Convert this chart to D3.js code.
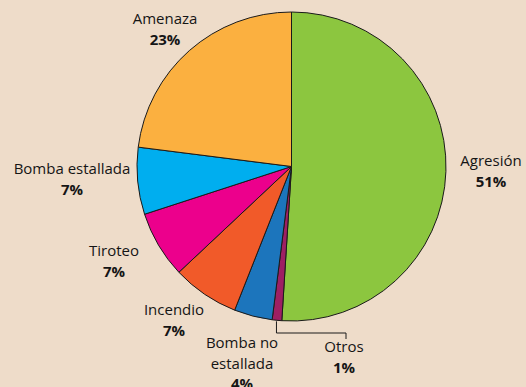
<!DOCTYPE html>
<html>
<head>
<meta charset="utf-8">
<script src="https://cdn.jsdelivr.net/npm/d3@7/dist/d3.min.js"></script>
<style>
  html, body { margin: 0; padding: 0; background: #eedcc9; }
  svg { display: block; }
  text { font-family: "Open Sans", "Noto Sans", sans-serif; fill: #151515; }
</style>
</head>
<body>
<svg id="chart" width="526" height="387"></svg>
<script>
// Incident types and their share (%), clockwise from 12 o'clock
const categories = ["Agresión", "Otros", "Bomba no estallada", "Incendio", "Tiroteo", "Bomba estallada", "Amenaza"];
const values = [51, 1, 4, 7, 7, 7, 23];
const colors = ["#8cc63f", "#9e1f63", "#1c75bc", "#f15a29", "#ec008c", "#00aeef", "#fbb040"];

// Label text lines per slice (name lines, then bold value)
const nameLines = [["Agresión"], ["Otros"], ["Bomba no", "estallada"], ["Incendio"], ["Tiroteo"], ["Bomba estallada"], ["Amenaza"]];
// Label anchor (centre x, first baseline y)
const labelAnchor = [[491, 166], [344, 352], [242, 348], [174, 315], [114, 256], [72, 174], [165, 24]];

const width = 526, height = 387;
const cx = 291.5, cy = 166.5, radius = 154.5;
const lineH = 20.5;

const svg = d3.select("#chart");
const g = svg.append("g").attr("transform", `translate(${cx},${cy})`);

const pie = d3.pie().value(d => d).sort(null);
const arc = d3.arc().innerRadius(0).outerRadius(radius);
const arcs = pie(values);

g.selectAll("path.slice")
  .data(arcs)
  .join("path")
  .attr("class", "slice")
  .attr("d", arc)
  .attr("fill", (d, i) => colors[i])
  .attr("stroke", "#1a1a1a")
  .attr("stroke-width", 1)
  .attr("stroke-linejoin", "round");

// Leader line for the thin "Otros" slice
const otros = arcs[1];
const midA = (otros.startAngle + otros.endAngle) / 2;
const sx = Math.sin(midA) * radius, sy = -Math.cos(midA) * radius;
const leader = d3.path();
leader.moveTo(cx + sx - 0.5, cy + sy + 1);
leader.lineTo(cx + sx - 0.5, 333);
leader.lineTo(labelAnchor[1][0] + 2, 333);
leader.lineTo(labelAnchor[1][0] + 2, 339);
svg.append("path")
  .attr("d", leader.toString())
  .attr("fill", "none")
  .attr("stroke", "#1a1a1a")
  .attr("stroke-width", 1);

// Labels
const labels = svg.append("g");
categories.forEach((c, i) => {
  const [x, y] = labelAnchor[i];
  const t = labels.append("text")
    .attr("x", x).attr("y", y)
    .attr("text-anchor", "middle")
    .attr("font-size", 15);
  nameLines[i].forEach((ln, k) => {
    t.append("tspan").attr("x", x).attr("dy", k === 0 ? 0 : lineH).text(ln);
  });
  t.append("tspan").attr("x", x).attr("dy", lineH)
    .attr("font-weight", "bold")
    .text(values[i] + "%");
});
</script>
</body>
</html>
